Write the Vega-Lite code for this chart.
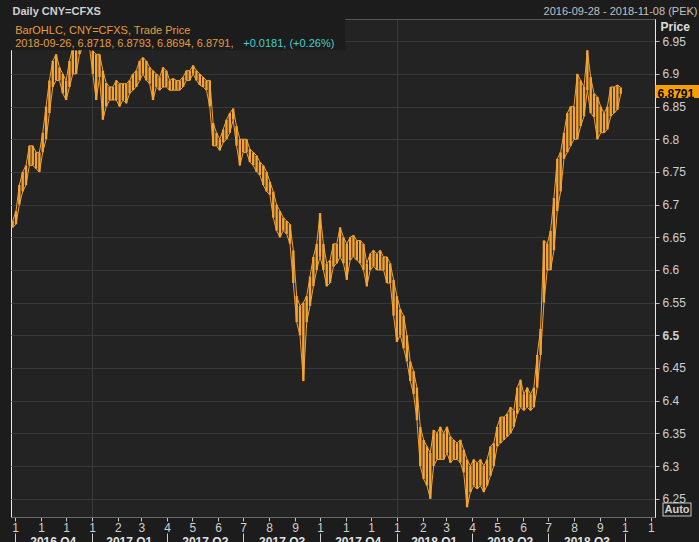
{
"$schema":"https://vega.github.io/schema/vega-lite/v6.json",
"width":644,"height":498,
"autosize":{"type":"none"},
"padding":{"left":11,"top":19,"right":44,"bottom":25},
"background":"#1c1c1c",
"config":{"view":{"fill":"#232323","stroke":"#e8e8e8","strokeWidth":1},"font":"Liberation Sans"},
"datasets":{"fx":[
{"d":"2016-09-28","lo":6.665,"hi":6.675},{"d":"2016-10-02","lo":6.67,"hi":6.69},{"d":"2016-10-06","lo":6.70,"hi":6.73},{"d":"2016-10-10","lo":6.72,"hi":6.75},{"d":"2016-10-14","lo":6.73,"hi":6.76},{"d":"2016-10-18","lo":6.76,"hi":6.79},{"d":"2016-10-22","lo":6.76,"hi":6.79},{"d":"2016-10-26","lo":6.755,"hi":6.78},{"d":"2016-10-30","lo":6.75,"hi":6.78},
{"d":"2016-11-03","lo":6.78,"hi":6.81},{"d":"2016-11-07","lo":6.80,"hi":6.85},{"d":"2016-11-11","lo":6.84,"hi":6.89},{"d":"2016-11-15","lo":6.88,"hi":6.92},{"d":"2016-11-19","lo":6.89,"hi":6.93},{"d":"2016-11-23","lo":6.89,"hi":6.91},{"d":"2016-11-27","lo":6.87,"hi":6.90},
{"d":"2016-12-01","lo":6.86,"hi":6.89},{"d":"2016-12-05","lo":6.88,"hi":6.92},{"d":"2016-12-09","lo":6.90,"hi":6.94},{"d":"2016-12-13","lo":6.90,"hi":6.935},{"d":"2016-12-17","lo":6.93,"hi":6.96},{"d":"2016-12-21","lo":6.94,"hi":6.96},{"d":"2016-12-25","lo":6.94,"hi":6.97},{"d":"2016-12-29","lo":6.94,"hi":6.96},
{"d":"2017-01-02","lo":6.90,"hi":6.935},{"d":"2017-01-06","lo":6.86,"hi":6.93},{"d":"2017-01-10","lo":6.895,"hi":6.93},{"d":"2017-01-14","lo":6.83,"hi":6.905},{"d":"2017-01-18","lo":6.85,"hi":6.886},{"d":"2017-01-22","lo":6.86,"hi":6.88},{"d":"2017-01-26","lo":6.86,"hi":6.88},{"d":"2017-01-30","lo":6.86,"hi":6.89},
{"d":"2017-02-03","lo":6.85,"hi":6.885},{"d":"2017-02-07","lo":6.86,"hi":6.885},{"d":"2017-02-11","lo":6.855,"hi":6.885},{"d":"2017-02-15","lo":6.87,"hi":6.89},{"d":"2017-02-19","lo":6.875,"hi":6.90},{"d":"2017-02-23","lo":6.88,"hi":6.905},{"d":"2017-02-27","lo":6.89,"hi":6.92},
{"d":"2017-03-03","lo":6.90,"hi":6.925},{"d":"2017-03-07","lo":6.89,"hi":6.92},{"d":"2017-03-11","lo":6.885,"hi":6.91},{"d":"2017-03-15","lo":6.86,"hi":6.905},{"d":"2017-03-19","lo":6.88,"hi":6.90},{"d":"2017-03-23","lo":6.875,"hi":6.895},{"d":"2017-03-27","lo":6.88,"hi":6.91},{"d":"2017-03-31","lo":6.88,"hi":6.905},
{"d":"2017-04-04","lo":6.875,"hi":6.89},{"d":"2017-04-08","lo":6.875,"hi":6.893},{"d":"2017-04-12","lo":6.875,"hi":6.89},{"d":"2017-04-16","lo":6.875,"hi":6.89},{"d":"2017-04-20","lo":6.88,"hi":6.895},{"d":"2017-04-24","lo":6.89,"hi":6.905},{"d":"2017-04-28","lo":6.89,"hi":6.905},
{"d":"2017-05-02","lo":6.90,"hi":6.913},{"d":"2017-05-06","lo":6.89,"hi":6.905},{"d":"2017-05-10","lo":6.883,"hi":6.90},{"d":"2017-05-14","lo":6.88,"hi":6.895},{"d":"2017-05-18","lo":6.875,"hi":6.89},{"d":"2017-05-22","lo":6.85,"hi":6.89},{"d":"2017-05-26","lo":6.79,"hi":6.825},{"d":"2017-05-30","lo":6.79,"hi":6.81},
{"d":"2017-06-03","lo":6.783,"hi":6.80},{"d":"2017-06-07","lo":6.795,"hi":6.815},{"d":"2017-06-11","lo":6.80,"hi":6.83},{"d":"2017-06-15","lo":6.81,"hi":6.84},{"d":"2017-06-19","lo":6.83,"hi":6.847},{"d":"2017-06-23","lo":6.79,"hi":6.82},{"d":"2017-06-27","lo":6.76,"hi":6.80},
{"d":"2017-07-01","lo":6.78,"hi":6.80},{"d":"2017-07-05","lo":6.78,"hi":6.80},{"d":"2017-07-09","lo":6.765,"hi":6.785},{"d":"2017-07-13","lo":6.76,"hi":6.78},{"d":"2017-07-17","lo":6.75,"hi":6.775},{"d":"2017-07-21","lo":6.745,"hi":6.765},{"d":"2017-07-25","lo":6.73,"hi":6.76},{"d":"2017-07-29","lo":6.72,"hi":6.75},
{"d":"2017-08-02","lo":6.715,"hi":6.735},{"d":"2017-08-06","lo":6.68,"hi":6.72},{"d":"2017-08-10","lo":6.66,"hi":6.70},{"d":"2017-08-14","lo":6.65,"hi":6.69},{"d":"2017-08-18","lo":6.66,"hi":6.68},{"d":"2017-08-22","lo":6.655,"hi":6.675},{"d":"2017-08-26","lo":6.64,"hi":6.67},{"d":"2017-08-30","lo":6.58,"hi":6.63},
{"d":"2017-09-03","lo":6.52,"hi":6.56},{"d":"2017-09-07","lo":6.50,"hi":6.545},{"d":"2017-09-11","lo":6.43,"hi":6.55},{"d":"2017-09-15","lo":6.52,"hi":6.56},{"d":"2017-09-19","lo":6.545,"hi":6.59},{"d":"2017-09-23","lo":6.575,"hi":6.62},{"d":"2017-09-27","lo":6.60,"hi":6.64},
{"d":"2017-10-01","lo":6.62,"hi":6.687},{"d":"2017-10-05","lo":6.60,"hi":6.64},{"d":"2017-10-09","lo":6.575,"hi":6.61},{"d":"2017-10-13","lo":6.58,"hi":6.615},{"d":"2017-10-17","lo":6.605,"hi":6.64},{"d":"2017-10-21","lo":6.61,"hi":6.64},{"d":"2017-10-25","lo":6.62,"hi":6.665},{"d":"2017-10-29","lo":6.61,"hi":6.65},
{"d":"2017-11-02","lo":6.585,"hi":6.64},{"d":"2017-11-06","lo":6.615,"hi":6.65},{"d":"2017-11-10","lo":6.62,"hi":6.653},{"d":"2017-11-14","lo":6.615,"hi":6.645},{"d":"2017-11-18","lo":6.61,"hi":6.645},{"d":"2017-11-22","lo":6.60,"hi":6.64},{"d":"2017-11-26","lo":6.575,"hi":6.61},{"d":"2017-11-30","lo":6.60,"hi":6.625},
{"d":"2017-12-04","lo":6.605,"hi":6.63},{"d":"2017-12-08","lo":6.60,"hi":6.625},{"d":"2017-12-12","lo":6.60,"hi":6.63},{"d":"2017-12-16","lo":6.60,"hi":6.62},{"d":"2017-12-20","lo":6.58,"hi":6.62},{"d":"2017-12-24","lo":6.58,"hi":6.61},{"d":"2017-12-28","lo":6.53,"hi":6.585},
{"d":"2018-01-01","lo":6.49,"hi":6.56},{"d":"2018-01-05","lo":6.50,"hi":6.54},{"d":"2018-01-09","lo":6.48,"hi":6.53},{"d":"2018-01-13","lo":6.46,"hi":6.50},{"d":"2018-01-17","lo":6.43,"hi":6.46},{"d":"2018-01-21","lo":6.41,"hi":6.445},{"d":"2018-01-25","lo":6.37,"hi":6.42},{"d":"2018-01-29","lo":6.30,"hi":6.36},
{"d":"2018-02-02","lo":6.28,"hi":6.34},{"d":"2018-02-06","lo":6.27,"hi":6.33},{"d":"2018-02-10","lo":6.25,"hi":6.32},{"d":"2018-02-14","lo":6.30,"hi":6.355},{"d":"2018-02-18","lo":6.31,"hi":6.35},{"d":"2018-02-22","lo":6.31,"hi":6.36},{"d":"2018-02-26","lo":6.31,"hi":6.35},
{"d":"2018-03-02","lo":6.32,"hi":6.36},{"d":"2018-03-06","lo":6.305,"hi":6.345},{"d":"2018-03-10","lo":6.31,"hi":6.34},{"d":"2018-03-14","lo":6.31,"hi":6.335},{"d":"2018-03-18","lo":6.305,"hi":6.34},{"d":"2018-03-22","lo":6.29,"hi":6.325},{"d":"2018-03-26","lo":6.237,"hi":6.31},{"d":"2018-03-30","lo":6.26,"hi":6.30},
{"d":"2018-04-03","lo":6.27,"hi":6.31},{"d":"2018-04-07","lo":6.265,"hi":6.305},{"d":"2018-04-11","lo":6.27,"hi":6.31},{"d":"2018-04-15","lo":6.26,"hi":6.30},{"d":"2018-04-19","lo":6.27,"hi":6.31},{"d":"2018-04-23","lo":6.285,"hi":6.33},{"d":"2018-04-27","lo":6.30,"hi":6.335},
{"d":"2018-05-01","lo":6.33,"hi":6.36},{"d":"2018-05-05","lo":6.335,"hi":6.375},{"d":"2018-05-09","lo":6.34,"hi":6.375},{"d":"2018-05-13","lo":6.345,"hi":6.38},{"d":"2018-05-17","lo":6.35,"hi":6.39},{"d":"2018-05-21","lo":6.36,"hi":6.385},{"d":"2018-05-25","lo":6.38,"hi":6.42},{"d":"2018-05-29","lo":6.39,"hi":6.432},
{"d":"2018-06-02","lo":6.385,"hi":6.41},{"d":"2018-06-06","lo":6.39,"hi":6.42},{"d":"2018-06-10","lo":6.385,"hi":6.41},{"d":"2018-06-14","lo":6.39,"hi":6.42},{"d":"2018-06-18","lo":6.42,"hi":6.47},{"d":"2018-06-22","lo":6.47,"hi":6.51},{"d":"2018-06-26","lo":6.55,"hi":6.645},{"d":"2018-06-30","lo":6.60,"hi":6.64},
{"d":"2018-07-04","lo":6.60,"hi":6.66},{"d":"2018-07-08","lo":6.63,"hi":6.71},{"d":"2018-07-12","lo":6.69,"hi":6.77},{"d":"2018-07-16","lo":6.72,"hi":6.78},{"d":"2018-07-20","lo":6.77,"hi":6.81},{"d":"2018-07-24","lo":6.78,"hi":6.84},{"d":"2018-07-28","lo":6.79,"hi":6.85},
{"d":"2018-08-01","lo":6.80,"hi":6.85},{"d":"2018-08-05","lo":6.80,"hi":6.90},{"d":"2018-08-09","lo":6.82,"hi":6.89},{"d":"2018-08-13","lo":6.835,"hi":6.88},{"d":"2018-08-17","lo":6.875,"hi":6.936},{"d":"2018-08-21","lo":6.84,"hi":6.895},{"d":"2018-08-25","lo":6.834,"hi":6.87},{"d":"2018-08-29","lo":6.80,"hi":6.865},
{"d":"2018-09-02","lo":6.81,"hi":6.85},{"d":"2018-09-06","lo":6.81,"hi":6.84},{"d":"2018-09-10","lo":6.815,"hi":6.85},{"d":"2018-09-14","lo":6.835,"hi":6.88},{"d":"2018-09-18","lo":6.84,"hi":6.88},{"d":"2018-09-22","lo":6.845,"hi":6.883},{"d":"2018-09-26","lo":6.8694,"hi":6.8793}
]},
"layer":[
{"data":{"name":"fx"},
 "mark":{"type":"rule","color":"#f5a431","strokeWidth":2.4},
 "encoding":{
  "x":{"field":"d","type":"temporal","scale":{"type":"utc","domain":[{"year":2016,"month":9,"date":26,"utc":true},{"year":2018,"month":11,"date":6,"utc":true}]},
   "axis":{"orient":"bottom","tickCount":{"interval":"month","step":1},"labelExpr":"substring(toString(utcmonth(datum.value)+1),0,1)","tickSize":4,"tickColor":"#c8c8c8","labelColor":"#d0d0d0","labelFontSize":12,"labelPadding":1,"domainColor":"#6a6a6a","grid":false,"labelFlush":false,"labelOverlap":false,"title":null}},
  "y":{"field":"lo","type":"quantitative","scale":{"domain":[6.222,6.984],"zero":false,"nice":false},
   "axis":{"orient":"right","values":[6.25,6.3,6.35,6.4,6.45,6.5,6.55,6.6,6.65,6.7,6.75,6.8,6.85,6.9,6.95],"format":".2~f","grid":true,"gridColor":"#383838","tickSize":4,"tickColor":"#bbbbbb","labelColor":"#d0d0d0","labelFontSize":12,"labelPadding":3,"labelFontWeight":{"condition":{"test":"datum.value == 6.5","value":"bold"},"value":"normal"},"domain":true,"domainColor":"#e8e8e8","title":"Price","titleAngle":0,"titleAlign":"left","titleBaseline":"middle","titleX":5,"titleY":7,"titleFontWeight":"bold","titleFontSize":12,"titleColor":"#dddddd"}},
  "y2":{"field":"hi"}}},
{"data":{"name":"fx"},
 "mark":{"type":"line","color":"#f5a431","strokeWidth":1},
 "encoding":{
  "x":{"field":"d","type":"temporal","scale":{"type":"utc","domain":[{"year":2016,"month":9,"date":26,"utc":true},{"year":2018,"month":11,"date":6,"utc":true}]},"axis":null},
  "y":{"field":"lo","type":"quantitative","scale":{"domain":[6.222,6.984],"zero":false,"nice":false},"axis":null}}},
{"data":{"name":"fx"},
 "mark":{"type":"line","color":"#f5a431","strokeWidth":1},
 "encoding":{
  "x":{"field":"d","type":"temporal","scale":{"type":"utc","domain":[{"year":2016,"month":9,"date":26,"utc":true},{"year":2018,"month":11,"date":6,"utc":true}]},"axis":null},
  "y":{"field":"hi","type":"quantitative","scale":{"domain":[6.222,6.984],"zero":false,"nice":false},"axis":null}}},
{"data":{"values":[{}]},
 "mark":{"type":"rect","color":"#1c1c1c"},
 "encoding":{
  "x":{"datum":{"year":2016,"month":9,"date":26,"utc":true},"type":"temporal","scale":{"type":"utc","domain":[{"year":2016,"month":9,"date":26,"utc":true},{"year":2018,"month":11,"date":6,"utc":true}]},
   "axis":{"orient":"bottom","offset":16,"tickCount":{"interval":"month","step":3},"tickSize":10,"tickColor":"#d0d0d0","labels":false,"domain":false,"grid":false,"title":null}},
  "x2":{"datum":{"year":2017,"month":10,"date":31,"utc":true}},
  "y":{"datum":6.984,"type":"quantitative","scale":{"domain":[6.222,6.984],"zero":false,"nice":false},
   "axis":{"orient":"right","values":[6.8791],"format":".4f","grid":false,"domain":false,"tickSize":44,"tickWidth":13,"tickColor":"#f5a000","tickOffset":3,"labelOffset":3,"labelColor":"#000000","labelFontWeight":"bold","labelFontSize":12,"labelPadding":-42,"title":null}},
  "y2":{"datum":6.936}}},
{"data":{"values":[{}]},
 "mark":{"type":"text","color":"#e59c3c","fontSize":11,"align":"left","baseline":"alphabetic","text":"BarOHLC, CNY=CFXS, Trade Price"},
 "encoding":{
  "x":{"datum":{"year":2016,"month":10,"date":1,"utc":true},"type":"temporal","scale":{"type":"utc","domain":[{"year":2016,"month":9,"date":26,"utc":true},{"year":2018,"month":11,"date":6,"utc":true}]},
   "axis":{"orient":"bottom","offset":16,"values":[{"year":2016,"month":11,"date":15,"utc":true},{"year":2017,"month":2,"date":14,"utc":true},{"year":2017,"month":5,"date":16,"utc":true},{"year":2017,"month":8,"date":16,"utc":true},{"year":2017,"month":11,"date":15,"utc":true},{"year":2018,"month":2,"date":14,"utc":true},{"year":2018,"month":5,"date":16,"utc":true},{"year":2018,"month":8,"date":16,"utc":true}],"labelExpr":"toString(utcyear(datum.value)) + ' Q' + toString(floor(utcmonth(datum.value)/3)+1)","ticks":false,"domain":false,"grid":false,"labelPadding":3,"labelFontWeight":"bold","labelFontSize":12,"labelColor":"#e0e0e0","labelOverlap":false,"labelFlush":false,"title":null}},
  "y":{"datum":6.961,"type":"quantitative","scale":{"domain":[6.222,6.984],"zero":false,"nice":false},
   "axis":{"orient":"right","offset":7,"values":[6.2335],"grid":false,"domain":false,"tickSize":29,"tickWidth":14,"tickColor":"#c8c8c8","labels":false,"title":null}}}},
{"data":{"values":[{}]},
 "mark":{"type":"text","color":"#e59c3c","fontSize":11,"align":"left","baseline":"alphabetic","text":"2018-09-26, 6.8718, 6.8793, 6.8694, 6.8791,"},
 "encoding":{
  "x":{"datum":{"year":2016,"month":10,"date":1,"utc":true},"type":"temporal","scale":{"type":"utc","domain":[{"year":2016,"month":9,"date":26,"utc":true},{"year":2018,"month":11,"date":6,"utc":true}]},
   "axis":{"orient":"top","values":[{"year":2017,"month":1,"date":1,"utc":true},{"year":2018,"month":1,"date":1,"utc":true}],"grid":true,"gridColor":"#3a3a3a","ticks":false,"labels":false,"domainColor":"#555555","title":"2016-09-28 - 2018-11-08 (PEK)","titleX":686,"titleY":-5,"titleAlign":"right","titleBaseline":"alphabetic","titleFontWeight":"normal","titleFontSize":11,"titleColor":"#c0c0c0"}},
  "y":{"datum":6.9404,"type":"quantitative","scale":{"domain":[6.222,6.984],"zero":false,"nice":false},
   "axis":{"orient":"right","offset":8,"values":[6.2335],"labelExpr":"'Auto'","grid":false,"domain":false,"tickSize":27,"tickWidth":12,"tickColor":"#1c1c1c","labelPadding":-26,"labelFontWeight":"bold","labelFontSize":11,"labelColor":"#d0d0d0","title":null}}}},
{"data":{"values":[{}]},
 "mark":{"type":"text","color":"#3fd0d0","fontSize":11,"align":"left","baseline":"alphabetic","text":"+0.0181, (+0.26%)"},
 "encoding":{
  "x":{"datum":{"year":2017,"month":7,"date":1,"utc":true},"type":"temporal","scale":{"type":"utc","domain":[{"year":2016,"month":9,"date":26,"utc":true},{"year":2018,"month":11,"date":6,"utc":true}]},
   "axis":{"orient":"top","ticks":false,"labels":false,"domain":false,"grid":false,"title":"Daily CNY=CFXS","titleX":1,"titleY":-5,"titleAlign":"left","titleBaseline":"alphabetic","titleFontWeight":"bold","titleFontSize":11,"titleColor":"#d0d0d0"}},
  "y":{"datum":6.9404,"type":"quantitative","scale":{"domain":[6.222,6.984],"zero":false,"nice":false},"axis":null}}}
],
"resolve":{"axis":{"x":"independent","y":"independent"}}
}
